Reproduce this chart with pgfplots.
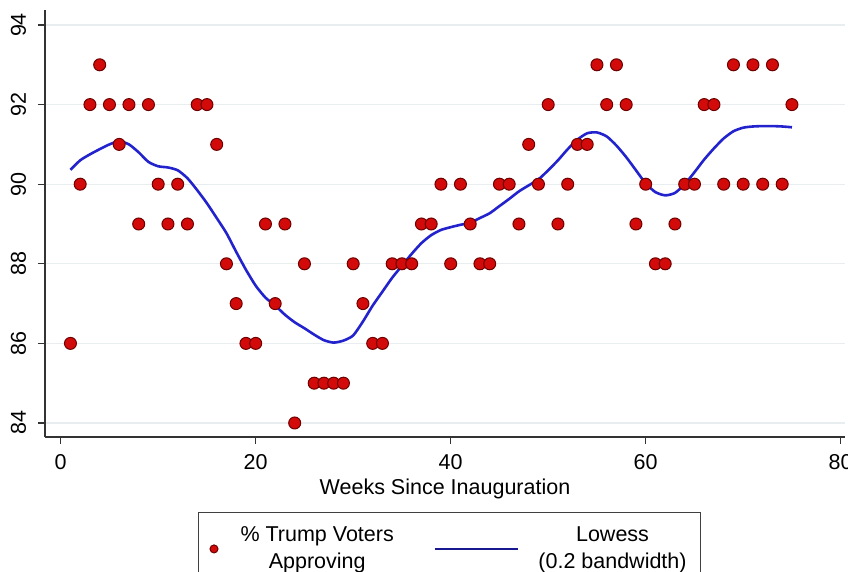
\documentclass[border=0pt]{standalone}
\usepackage{pgfplots}
\pgfplotsset{compat=1.18}
\usepackage{pgfplotstable}
\usepackage{fontspec}
\setmainfont{Liberation Sans}
\definecolor{ptred}{RGB}{210,10,10}
\definecolor{ptedge}{RGB}{110,0,0}
\definecolor{lowblue}{RGB}{35,35,205}
\definecolor{gridc}{RGB}{232,238,240}

\pgfplotstableread{
week val
1 86
2 90
3 92
4 93
5 92
6 91
7 92
8 89
9 92
10 90
11 89
12 90
13 89
14 92
15 92
16 91
17 88
18 87
19 86
20 86
21 89
22 87
23 89
24 84
25 88
26 85
27 85
28 85
29 85
30 88
31 87
32 86
33 86
34 88
35 88
36 88
37 89
38 89
39 90
40 88
41 90
42 89
43 88
44 88
45 90
46 90
47 89
48 91
49 90
50 92
51 89
52 90
53 91
54 91
55 93
56 92
57 93
58 92
59 89
60 90
61 88
62 88
63 89
64 90
65 90
66 92
67 92
68 90
69 93
70 90
71 93
72 90
73 93
74 90
75 92
}\approval

\pgfplotstableread{
week fit
1 90.36
2 90.60
3 90.75
4 90.88
5 91.00
6 91.08
7 91.00
8 90.80
9 90.56
10 90.45
11 90.42
12 90.35
13 90.15
14 89.85
15 89.52
16 89.15
17 88.77
18 88.30
19 87.85
20 87.45
21 87.15
22 86.95
23 86.72
24 86.53
25 86.38
26 86.22
27 86.08
28 86.02
29 86.07
30 86.20
31 86.55
32 86.95
33 87.30
34 87.65
35 87.95
36 88.25
37 88.52
38 88.72
39 88.85
40 88.92
41 88.98
42 89.03
43 89.15
44 89.27
45 89.45
46 89.63
47 89.82
48 89.97
49 90.12
50 90.35
51 90.60
52 90.88
53 91.12
54 91.28
55 91.30
56 91.20
57 90.97
58 90.68
59 90.35
60 90.02
61 89.80
62 89.72
63 89.78
64 90.00
65 90.30
66 90.62
67 90.90
68 91.15
69 91.33
70 91.42
71 91.45
72 91.46
73 91.46
74 91.45
75 91.43
}\lowess

\pgfplotsset{
  scatleg/.style={legend image code/.code={
    \path (0pt,0pt) (13.5pt,0pt);
    \draw[draw=ptedge, fill=ptred, line width=0.5pt] (2.5pt,0pt) circle (2pt);
  }},
  lineleg/.style={legend image code/.code={
    \path (0pt,0pt) (67pt,0pt);
    \draw[lowblue!70!black, line width=1pt] (18pt,0pt) -- (59.5pt,0pt);
  }},
}

\begin{document}
\begin{tikzpicture}
\begin{axis}[
  at={(0,0)}, anchor=south west,
  scale only axis,
  width=400pt, height=213.5pt,
  xmin=-1.61, xmax=80.44,
  ymin=83.648, ymax=94.377,
  axis x line*=bottom, axis y line*=left,
  axis line style={line width=0.75pt, color=black!80},
  xtick={0,20,40,60,80},
  ytick={84,86,88,90,92,94},
  tick align=outside,
  major tick length=3.5pt,
  tick style={line width=0.6pt, color=black!80},
  ymajorgrids,
  major grid style={line width=0.6pt, color=gridc},
  /pgf/number format/assume math mode=true,
  tick label style={font=\fontsize{10.75}{12}\selectfont, color=black},
  xticklabel style={anchor=base},
  xticklabel shift=13pt,
  yticklabel style={rotate=90, anchor=base},
  yticklabel shift=6pt,
  xlabel={Weeks Since Inauguration},
  xlabel style={font=\fontsize{10.75}{12}\selectfont, at={(rel axis cs:0.5,0)}, anchor=base, yshift=-29pt},
  legend style={
    at={(0.19125,-0.1756)}, anchor=north west,
    draw=black!75, line width=0.5pt,
    inner xsep=5pt, inner ysep=5pt,
    font=\fontsize{10.75}{13.5}\selectfont,
    cells={align=center, inner sep=0pt},
    column sep=0pt,
  },
  legend columns=2,
]
\addplot[only marks, mark=*, mark size=3pt,
  mark options={fill=ptred, draw=ptedge, line width=0.5pt},
  scatleg] table[x=week, y=val] {\approval};
\addlegendentry{\% Trump Voters\\Approving}
\addplot[lowblue, line width=1.3pt, smooth, tension=0.4, lineleg]
  table[x=week, y=fit] {\lowess};
\addlegendentry{Lowess\\(0.2 bandwidth)}
\end{axis}
\pgfresetboundingbox
\path[use as bounding box] (-22.5pt,-67.5pt) rectangle (401.5pt,218.5pt);
\end{tikzpicture}
\end{document}
